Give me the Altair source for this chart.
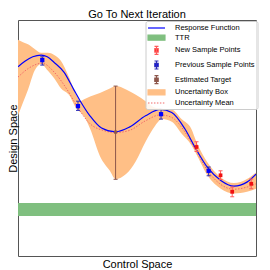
import altair as alt
import pandas as pd

# ---------------- data (chart units: x 0..10, y 0..10) ----------------
resp_x = [0, 0.29, 0.62, 0.975, 1.23, 1.52, 1.93, 2.35, 2.62, 3.03, 3.51, 4.10,
          4.68, 5.36, 5.98, 6.46, 7.01, 7.42, 7.97, 8.52, 9.07, 9.62, 10.0]
resp_y = [8.02, 8.25, 8.44, 8.51, 8.44, 8.20, 7.79, 7.04, 6.56, 5.93, 5.42, 5.26,
          5.46, 5.94, 6.21, 6.08, 5.39, 4.64, 3.74, 3.20, 2.96, 3.13, 3.47]

mean_x = [0, 0.41, 1.02, 1.52, 2.07, 2.52, 3.03, 3.58, 4.10, 4.68, 5.36, 5.98,
          6.46, 7.01, 7.42, 7.97, 8.52, 9.07, 9.62, 10.0]
mean_y = [7.58, 7.93, 8.17, 7.79, 7.04, 6.28, 5.60, 5.32, 5.23, 5.32, 5.73, 5.98,
          5.87, 5.26, 4.57, 3.61, 3.03, 2.83, 2.92, 3.06]

band_x = [0, 0.21, 0.42, 0.70, 0.975, 1.25, 1.52, 1.80, 2.14, 2.48, 2.62, 2.76,
          3.03, 3.44, 3.86, 4.10, 4.54, 4.95, 5.36, 5.77, 6.05, 6.46, 6.87, 7.28,
          7.49, 7.97, 8.52, 9.07, 9.62, 10.0]
band_hi = [9.16, 9.06, 8.97, 8.77, 8.61, 8.61, 8.52, 8.27, 7.58, 6.76, 6.56, 6.63,
           6.76, 6.91, 7.10, 7.20, 7.06, 6.83, 6.56, 6.28, 6.24, 6.21, 5.80, 5.39,
           4.85, 3.95, 3.33, 3.09, 3.26, 3.54]
band_lo = [5.94, 6.50, 7.04, 7.86, 8.14, 7.86, 7.53, 7.11, 6.83, 6.21, 6.09, 5.94,
           5.39, 4.24, 3.61, 3.26, 3.47, 4.02, 4.84, 5.53, 5.80, 5.69, 5.19, 4.70,
           4.32, 3.40, 2.85, 2.65, 2.72, 2.85]

prev_x = [1.02, 2.52, 6.01, 8.01]
prev_y = [8.30, 6.35, 6.01, 3.61]
prev_lo = [8.09, 6.17, 5.80, 3.40]
prev_hi = [8.44, 6.56, 6.21, 3.77]

new_x = [7.50, 8.51, 9.00, 9.80]
new_y = [4.62, 3.42, 2.72, 3.06]
new_lo = [4.43, 3.24, 2.51, 2.85]
new_hi = [4.84, 3.61, 2.92, 3.26]

target_x = [4.10]
target_y = [5.25]
target_lo = [3.25]
target_hi = [7.20]

ttr_x = [0, 10]
ttr_lo = [1.70]
ttr_hi = [2.25]

legend_names = ["Response Function", "TTR", "New Sample Points",
                "Previous Sample Points", "Estimated Target",
                "Uncertainty Box", "Uncertainty Mean"]

# ---------------- styling ----------------
FONT = "Liberation Sans"
BLUE = "#0000ff"
BLUE_ERR = "#2a2ab8"
RED = "#f01010"
RED_ERR = "#ff5a5a"
BROWN = "#8c564b"
ORANGE = "#ffbf86"
GREEN = "#7fbf7f"
MEAN_C = "#f26a6a"

line_p = "M-2,0H2"
rect_p = "M-2,-0.6H2V0.6H-2Z"
err_p = "M0,-0.94V0.94M-0.47,-0.94H0.47M-0.47,0.94H0.47M-0.4,-0.4H0.4V0.4H-0.4Z"
dot_p = "M-2,0H-1.65M-1.3,0H-0.95M-0.6,0H-0.25M0.1,0H0.45M0.8,0H1.15M1.5,0H1.85"
legend_shapes = [line_p, rect_p, err_p, err_p, err_p, rect_p, dot_p]
legend_fill = [BLUE, GREEN, RED, BLUE, BROWN, ORANGE, MEAN_C]
legend_stroke = [BLUE, GREEN, RED_ERR, BLUE_ERR, BROWN, ORANGE, MEAN_C]

xs = alt.Scale(domain=[0, 10], nice=False, zero=False)
ys = alt.Scale(domain=[0, 10], nice=False, zero=False)

x_axis = alt.Axis(title="Control Space", ticks=False, labels=False, domain=False,
                  grid=False, titleFont=FONT, titleFontSize=11,
                  titleFontWeight="normal", titleColor="black", titlePadding=2)
y_axis = alt.Axis(title="Design Space", ticks=False, labels=False, domain=False,
                  grid=False, titleFont=FONT, titleFontSize=11,
                  titleFontWeight="normal", titleColor="black", titlePadding=0)


def X(field):
    return alt.X(field, type="quantitative", scale=xs, axis=x_axis)


def Y(field):
    return alt.Y(field, type="quantitative", scale=ys, axis=y_axis)


# ---------------- layers ----------------
ttr_df = pd.DataFrame({"x0": [ttr_x[0]], "x1": [ttr_x[1]], "y0": ttr_lo, "y1": ttr_hi})
ttr = alt.Chart(ttr_df).mark_rect(color=GREEN, opacity=1).encode(
    x=X("x0"), x2="x1:Q", y=Y("y0"), y2="y1:Q",
)

band_df = pd.DataFrame({"x": band_x, "hi": band_hi, "lo": band_lo})
band = alt.Chart(band_df).mark_area(color=ORANGE, opacity=1, interpolate="monotone",
                                    clip=True).encode(
    x=X("x"), y=Y("hi"), y2="lo:Q",
)

mean_df = pd.DataFrame({"x": mean_x, "y": mean_y})
mean = alt.Chart(mean_df).mark_line(color=MEAN_C, strokeWidth=1, strokeDash=[1.5, 1.5],
                                    interpolate="monotone", clip=True).encode(
    x=X("x"), y=Y("y"),
)

resp_df = pd.DataFrame({"x": resp_x, "y": resp_y})
resp = alt.Chart(resp_df).mark_line(color=BLUE, strokeWidth=1.2,
                                    interpolate="monotone", clip=True).encode(
    x=X("x"), y=Y("y"),
)


def err_layers(xv, yv, lo, hi, pt_color, err_color, size):
    df = pd.DataFrame({"x": xv, "y": yv, "lo": lo, "hi": hi})
    base = alt.Chart(df)
    bar = base.mark_rule(color=err_color, strokeWidth=1).encode(
        x=X("x"), y=Y("lo"), y2="hi:Q",
    )
    cap_lo = base.mark_tick(color=err_color, orient="horizontal", size=4,
                            thickness=1, opacity=1).encode(x=X("x"), y=Y("lo"))
    cap_hi = base.mark_tick(color=err_color, orient="horizontal", size=4,
                            thickness=1, opacity=1).encode(x=X("x"), y=Y("hi"))
    pts = base.mark_square(color=pt_color, size=size, opacity=1).encode(
        x=X("x"), y=Y("y"),
    )
    return [bar, cap_lo, cap_hi, pts]


target_layers = err_layers(target_x, target_y, target_lo, target_hi, BROWN, BROWN, 10)
prev_layers = err_layers(prev_x, prev_y, prev_lo, prev_hi, BLUE, BLUE_ERR, 18)
new_layers = err_layers(new_x, new_y, new_lo, new_hi, RED, RED_ERR, 14)

leg = alt.Legend(title=None, orient="none", legendX=127.5, legendY=1,
                 symbolSize=72, symbolStrokeWidth=1.2, symbolOffset=4,
                 labelOffset=13.5, padding=2, rowPadding=0.67,
                 labelFont=FONT, labelFontSize=7.5, labelColor="black",
                 labelLimit=200, fillColor="rgba(255,255,255,0.85)",
                 strokeColor="#cccccc", cornerRadius=2, symbolOpacity=1)

legend_layer = alt.Chart(pd.DataFrame({"name": legend_names})).transform_filter(
    "false").mark_point(filled=True, opacity=1, strokeWidth=1.2).encode(
    shape=alt.Shape("name:N", scale=alt.Scale(domain=legend_names, range=legend_shapes),
                    legend=leg),
    fill=alt.Fill("name:N", scale=alt.Scale(domain=legend_names, range=legend_fill),
                  legend=leg),
    stroke=alt.Stroke("name:N", scale=alt.Scale(domain=legend_names, range=legend_stroke),
                      legend=leg),
)

chart = alt.layer(
    ttr, band, mean, resp, *target_layers, *prev_layers, *new_layers, legend_layer
).properties(
    width=238, height=236,
    title=alt.Title("Go To Next Iteration", fontSize=11, font=FONT,
                    fontWeight="normal", color="black", offset=0),
    padding={"left": 10, "top": 12, "right": 6, "bottom": 14},
    autosize=alt.AutoSizeParams(type="none"),
).configure_view(stroke="#555555", strokeWidth=1)

chart.save("out.html", embed_options={"renderer": "svg", "actions": False})
